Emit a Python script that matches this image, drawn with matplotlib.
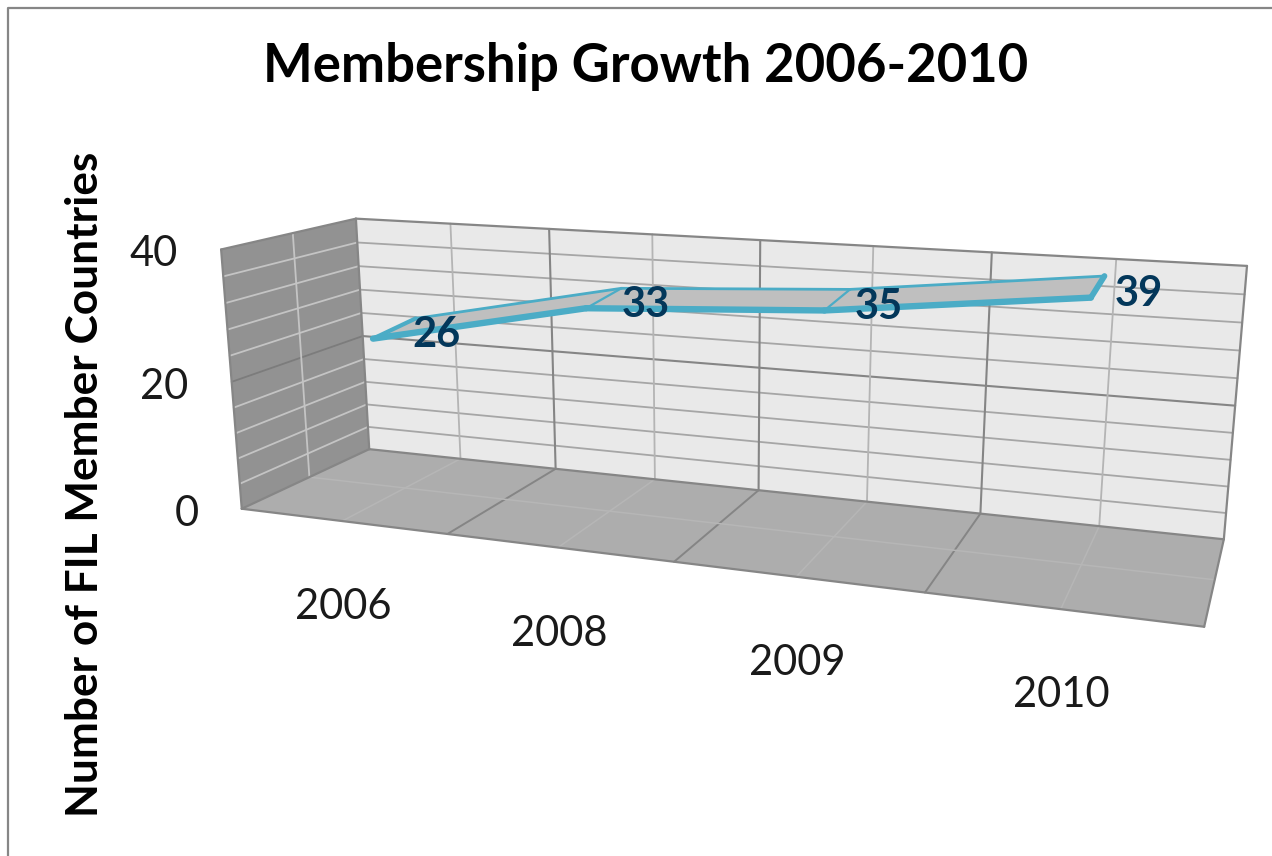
#!/usr/bin/env python3
from __future__ import annotations

import matplotlib

matplotlib.use("Agg")
import matplotlib.pyplot as plt
import numpy as np
from matplotlib.patches import Polygon

W, H = 1272, 856

TITLE = "Membership Growth 2006-2010"
YLABEL = "Number of FIL Member Countries"
YEARS = ["2006", "2008", "2009", "2010"]
MEMBERS = [26, 33, 35, 39]
Y_TICKS = [0, 20, 40]

Y_MAX = 40
Y_MINOR = 4
N = len(YEARS)

# where the box corners sit in the image: (category, value, depth) -> pixel
BOX_CORNERS = [
    ((0, 0, 0), (242, 509)),
    ((N, 0, 0), (1204, 627)),
    ((0, 0, 1), (369, 449)),
    ((N, 0, 1), (1224, 539)),
    ((0, Y_MAX, 0), (221, 249)),
    ((0, Y_MAX, 1), (356, 219)),
    ((N, Y_MAX, 1), (1247, 266)),
]

RIBBON_FRONT = 0.31
RIBBON_BACK = 0.66
# the ribbon has some height, back edge sits a bit above the front one
RIBBON_LIFT_BACK = 0.5
RIBBON_LIFT_FRONT = -0.3

plt.rcParams["font.family"] = ["Lato", "DejaVu Sans"]


def fit_camera() -> np.ndarray:
    rows, rhs = [], []
    for (cx, cy, cz), (u, v) in BOX_CORNERS:
        p = [cx, cy, cz, 1.0]
        rows.append(p + [0, 0, 0, 0] + [-u * a for a in p[:3]])
        rhs.append(u)
        rows.append([0, 0, 0, 0] + p + [-v * a for a in p[:3]])
        rhs.append(v)
    sol = np.linalg.lstsq(np.array(rows, float), np.array(rhs, float), rcond=None)[0]
    return np.append(sol, 1.0).reshape(3, 4)


CAM = fit_camera()


def project(cx, cy, cz):
    u, v, w = CAM @ np.array([cx, cy, cz, 1.0])
    return u / w, v / w


def line3d(ax, a, b, color, lw, z=2):
    (x0, y0), (x1, y1) = project(*a), project(*b)
    ax.plot([x0, x1], [y0, y1], color=color, lw=lw, zorder=z, solid_capstyle="round")


def face(ax, corners, color, z=1):
    ax.add_patch(Polygon([project(*c) for c in corners], closed=True, fc=color, ec="none", zorder=z))


def draw_box(ax) -> None:
    face(ax, [(0, 0, 1), (N, 0, 1), (N, Y_MAX, 1), (0, Y_MAX, 1)], "#e9e9e9")
    face(ax, [(0, 0, 0), (0, 0, 1), (0, Y_MAX, 1), (0, Y_MAX, 0)], "#929292")
    face(ax, [(0, 0, 0), (N, 0, 0), (N, 0, 1), (0, 0, 1)], "#adadad")

    dark = "#858585"
    for val in range(Y_MINOR, Y_MAX, Y_MINOR):
        major = val == 20
        line3d(ax, (0, val, 1), (N, val, 1), dark if major else "#a6a6a6", 1.5 if major else 1.3)
        line3d(ax, (0, val, 0), (0, val, 1), "#7c7c7c" if major else "#c4c4c4", 1.3)

    for i in range(1, 2 * N):
        cx = i / 2
        major = i % 2 == 0
        line3d(ax, (cx, 0, 1), (cx, Y_MAX, 1), dark if major else "#b4b4b4", 1.5 if major else 1.3)
        line3d(ax, (cx, 0, 0), (cx, 0, 1), dark if major else "#b6b6b6", 1.4 if major else 1.1)

    line3d(ax, (0, 0, 0.5), (0, Y_MAX, 0.5), "#c4c4c4", 1.3)
    line3d(ax, (0, 0, 0.5), (N, 0, 0.5), "#b6b6b6", 1.1)

    edge = "#868686"
    for a, b in [
        ((0, 0, 0), (N, 0, 0)),
        ((N, 0, 0), (N, 0, 1)),
        ((0, 0, 0), (0, 0, 1)),
        ((0, 0, 1), (N, 0, 1)),
        ((0, 0, 0), (0, Y_MAX, 0)),
        ((0, Y_MAX, 0), (0, Y_MAX, 1)),
        ((0, Y_MAX, 1), (N, Y_MAX, 1)),
        ((N, 0, 1), (N, Y_MAX, 1)),
        ((0, 0, 1), (0, Y_MAX, 1)),
    ]:
        line3d(ax, a, b, edge, 1.6, z=3)


def draw_ribbon(ax) -> None:
    blue = "#4bacc6"
    xs = [i + 0.5 for i in range(N)]
    front = [(x, v + RIBBON_LIFT_FRONT, RIBBON_FRONT) for x, v in zip(xs, MEMBERS)]
    back = [(x, v + RIBBON_LIFT_BACK, RIBBON_BACK) for x, v in zip(xs, MEMBERS)]

    face(ax, front + back[::-1], "#bfbfbf", z=4)
    for a, b in zip(back, back[1:]):
        line3d(ax, a, b, blue, 2.0, z=5)
    for a, b in zip(front, front[1:]):
        line3d(ax, a, b, blue, 4.6, z=5)
    for a, b in zip(front[1:-1], back[1:-1]):
        line3d(ax, a, b, blue, 1.6, z=5)
    line3d(ax, front[0], back[0], blue, 3.0, z=5)
    line3d(ax, front[-1], back[-1], blue, 4.2, z=5)


def draw_text(ax) -> None:
    ax.text(646, 66, TITLE, fontsize=37.9, fontweight="bold", ha="center", va="center", color="black")
    ax.text(85, 484, YLABEL, fontsize=31.8, fontweight="bold", rotation=90, ha="center", va="center", color="black")

    for val in Y_TICKS:
        x, y = project(0, val, 0)
        ax.text(x - 43, y + 5, str(val), fontsize=30, ha="right", va="center", color="#1a1a1a")

    for i, year in enumerate(YEARS):
        x, y = project(i + 0.5, 0, 0)
        ax.text(x + 1, y + 86, year, fontsize=30, ha="center", va="center", color="#1a1a1a")

    for i, val in enumerate(MEMBERS):
        x, y = project(i + 0.5, val, 0.5)
        ax.text(x + 40, y + 7, str(val), fontsize=30, fontweight="bold", ha="center", va="center", color="#03375a", zorder=6)


def main() -> None:
    fig = plt.figure(figsize=(W / 100, H / 100), dpi=100, facecolor="white")
    ax = fig.add_axes([0, 0, 1, 1])
    ax.set_xlim(0, W)
    ax.set_ylim(H, 0)
    ax.axis("off")

    # chart frame, only top and left fall inside the crop
    ax.plot([7.5, 7.5, W], [H, 7.5, 7.5], color="#868686", lw=1.6, zorder=1)

    draw_box(ax)
    draw_ribbon(ax)
    draw_text(ax)

    fig.savefig("out.png", dpi=100)
    plt.close(fig)


if __name__ == "__main__":
    main()
